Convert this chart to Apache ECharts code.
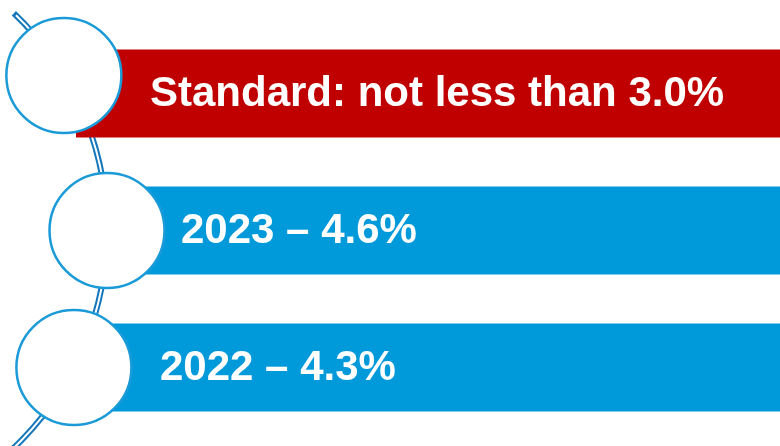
<!DOCTYPE html>
<html>
<head>
<meta charset="utf-8">
<script src="https://cdn.jsdelivr.net/npm/echarts@6/dist/echarts.min.js"></script>
<style>
  html, body { margin: 0; padding: 0; background: #fff; }
  #chart { width: 780px; height: 446px; }
</style>
</head>
<body>
<div id="chart"></div>
<script>
// data
const categories = ['Standard', '2023', '2022'];
const values = [3.0, 4.6, 4.3];
const labels = [
  'Standard: not less than ' + values[0].toFixed(1) + '%',
  categories[1] + ' \u2013 ' + values[1].toFixed(1) + '%',
  categories[2] + ' \u2013 ' + values[2].toFixed(1) + '%'
];
const barColors = ['#C00000', '#009ADB', '#009ADB'];

// layout (pixels)
const barStart = [76, 120, 100];
const textLeft = [150, 181, 160];
const circleDy = [-18, 0, 0];
const circleR = 57.5;
const arcR = 300;
const arcRightX = 107;

const chart = echarts.init(document.getElementById('chart'), null, { renderer: 'canvas' });

// the arc is centred on the middle row, circles sit on it
function arcCenter(api) {
  const y = api.coord([0, 1])[1];
  return [arcRightX - arcR, y];
}
function arcX(api, y) {
  const c = arcCenter(api);
  return c[0] + Math.sqrt(arcR * arcR - (y - c[1]) * (y - c[1]));
}

const rows = categories.map((c, i) => [i]);

const option = {
  animation: false,
  grid: { left: 0, right: 0, top: 25, bottom: 10 },
  xAxis: { type: 'value', min: 0, max: 780, show: false },
  yAxis: { type: 'category', data: categories, inverse: true, show: false },
  series: [
    {
      // decorative double arc
      type: 'custom',
      clip: false,
      z: 1,
      data: [[1]],
      encode: { y: 0 },
      renderItem: (params, api) => {
        const c = arcCenter(api);
        const outer = { cx: c[0], cy: c[1], r: arcR, startAngle: -0.81, endAngle: 1.1, clockwise: true };
        const inner = { cx: c[0], cy: c[1], r: arcR, startAngle: -0.80, endAngle: 1.1, clockwise: true };
        return {
          type: 'group',
          children: [
            { type: 'arc', shape: outer, style: { stroke: '#1577BA', lineWidth: 6, fill: null, lineCap: 'butt' } },
            { type: 'arc', shape: inner, style: { stroke: '#ffffff', lineWidth: 2, fill: null, lineCap: 'butt' } }
          ]
        };
      }
    },
    {
      // bars with labels
      type: 'custom',
      clip: false,
      z: 2,
      data: rows,
      encode: { y: 0 },
      renderItem: (params, api) => {
        const i = api.value(0);
        const y = api.coord([0, i])[1];
        const h = api.size([0, 1])[1] * 0.643;
        const x0 = api.coord([barStart[i], i])[0];
        const x1 = api.coord([780, i])[0];
        return {
          type: 'group',
          children: [
            { type: 'rect', shape: { x: x0, y: y - h / 2, width: x1 - x0, height: h }, style: { fill: barColors[i] } },
            {
              type: 'text', z2: 10,
              style: {
                x: textLeft[i], y: y + 1, text: labels[i],
                fill: '#ffffff', font: 'bold 42px "Liberation Sans", Arial, sans-serif',
                align: 'left', verticalAlign: 'middle'
              }
            }
          ]
        };
      }
    },
    {
      // circles on the arc
      type: 'custom',
      clip: false,
      z: 3,
      data: rows,
      encode: { y: 0 },
      renderItem: (params, api) => {
        const i = api.value(0);
        const cy = api.coord([0, i])[1] + circleDy[i];
        const cx = arcX(api, cy);
        return {
          type: 'circle',
          shape: { cx: cx, cy: cy, r: circleR },
          style: { fill: '#ffffff', stroke: '#1B9AD8', lineWidth: 2.5 }
        };
      }
    }
  ]
};

chart.setOption(option);
</script>
</body>
</html>
